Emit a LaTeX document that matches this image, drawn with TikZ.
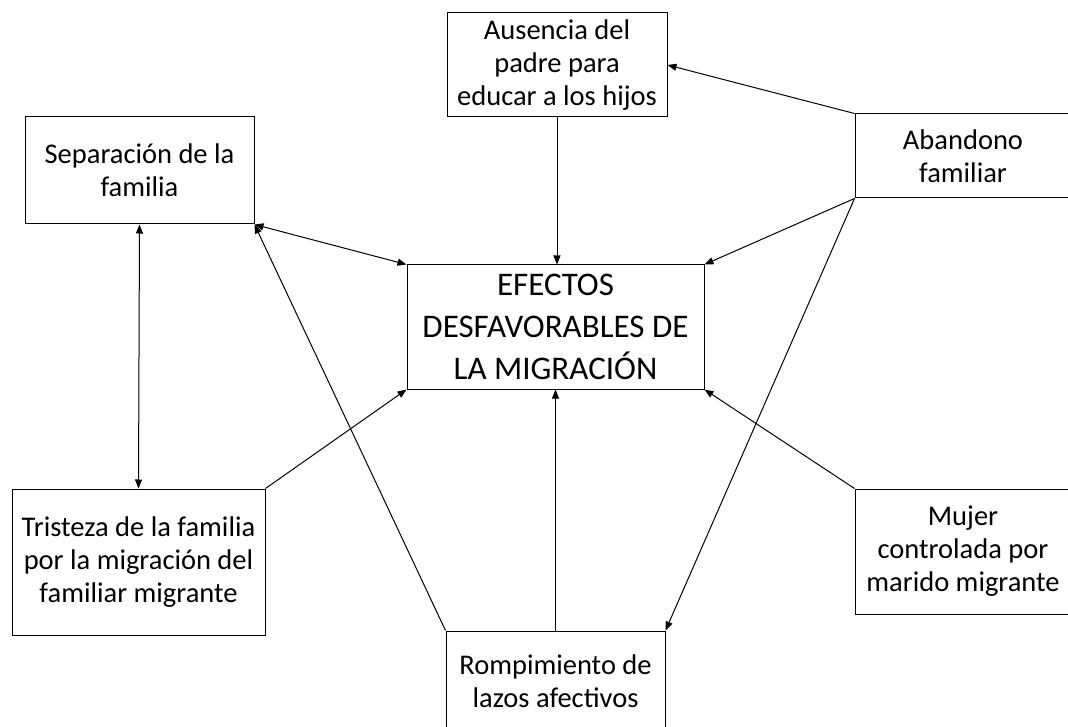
\documentclass[tikz,border=0pt]{standalone}
\usepackage{fontspec}
\setmainfont{Carlito}
\usetikzlibrary {arrows.meta,
                 positioning}
\tikzset{
        base/.style={draw, line width=1pt, align=center, inner sep=2pt},
        proc/.style={base, rectangle, font=\fontsize{28.5}{33}\selectfont},
        main/.style={base, rectangle, font=\fontsize{33}{42}\selectfont},
        myarrow/.style={-{Triangle[length=9pt, width=7pt]}, line width=1pt},
        mydarrow/.style={{Triangle[length=9pt, width=7pt]}-{Triangle[length=9pt, width=7pt]}, line width=1pt},
 }
\begin{document}
\begin{tikzpicture}[x=1pt, y=-1pt]
    \useasboundingbox (0,0) rectangle (1068,727);

    \node[main, minimum width=297pt, minimum height=124pt] (efe) at (555.5,327)
        {EFECTOS\\DESFAVORABLES DE\\LA MIGRACIÓN};

    \node[proc, minimum width=220pt, minimum height=104pt] (aus) at (557,65)
        {Ausencia del\\padre para\\educar a los hijos};
    \node[proc, minimum width=229pt, minimum height=107pt] (sep) at (139.5,170.5)
        {Separación de la\\familia};
    \node[proc, minimum width=216pt, minimum height=84pt] (aba) at (963,156)
        {Abandono\\familiar};
    \node[proc, minimum width=253pt, minimum height=146pt] (tri) at (138.5,562)
        {Tristeza de la familia\\por la migración del\\familiar migrante};
    \node[proc, minimum width=216pt, minimum height=125pt] (muj) at (963,551.5)
        {Mujer\\controlada por\\marido migrante};
    \node[proc, minimum width=219pt, minimum height=100pt] (rom) at (555.5,681)
        {Rompimiento de\\lazos afectivos};

    \draw[myarrow] (aus.south) -- (aus.south |- efe.north);
    \draw[myarrow] (aba.north west) -- (aus.east);
    \draw[myarrow] (aba.south west) -- (efe.north east);
    \draw[myarrow] (aba.south west) -- (rom.north east);
    \draw[mydarrow] (sep.south east) -- (efe.north west);
    \draw[myarrow] (rom.north west) -- (sep.south east);
    \draw[mydarrow] (sep.south) -- (tri.north);
    \draw[myarrow] (tri.north east) -- (efe.south west);
    \draw[myarrow] (rom.north) -- (efe.south);
    \draw[myarrow] (muj.north west) -- (efe.south east);

\end{tikzpicture}
\end{document}
